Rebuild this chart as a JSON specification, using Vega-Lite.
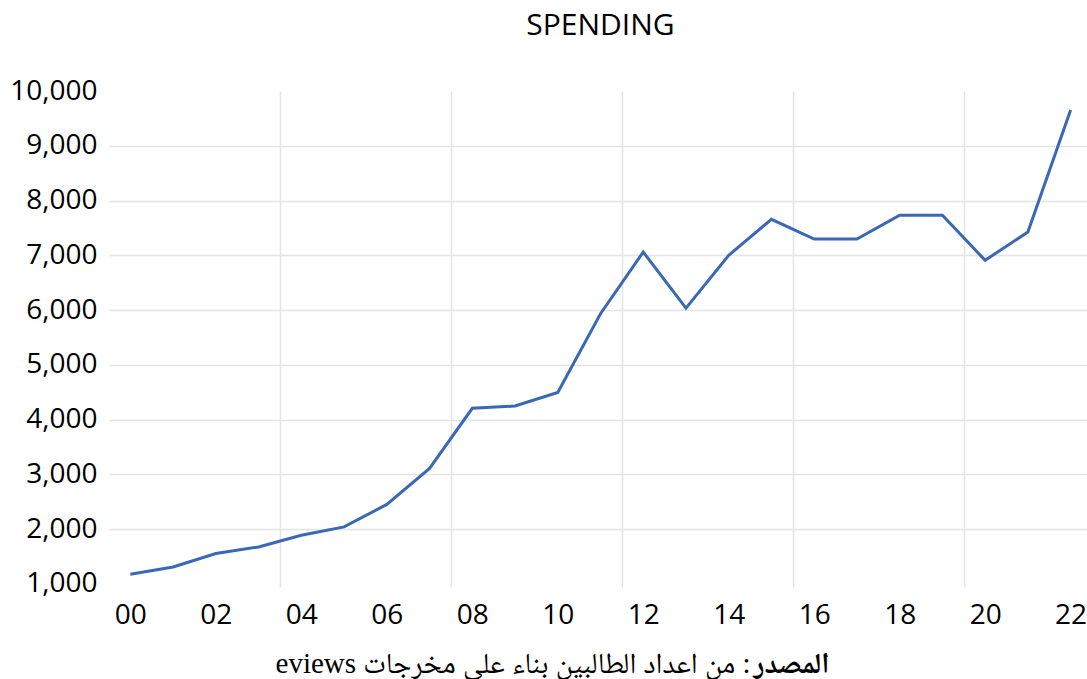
{
  "$schema": "https://vega.github.io/schema/vega-lite/v6.json",
  "width": 983,
  "height": 496,
  "autosize": {"type": "none"},
  "padding": {"left": 109, "top": 91, "right": 0, "bottom": 92},
  "background": "white",
  "title": {"text": "SPENDING", "font": "Open Sans", "fontSize": 30, "fontWeight": "normal", "color": "#000000", "anchor": "middle", "offset": 36},
  "config": {"view": {"stroke": null}},
  "data": {"values": [
    {"year": "00", "spending": 1177},
    {"year": "01", "spending": 1311},
    {"year": "02", "spending": 1556},
    {"year": "03", "spending": 1676},
    {"year": "04", "spending": 1890},
    {"year": "05", "spending": 2042},
    {"year": "06", "spending": 2452},
    {"year": "07", "spending": 3110},
    {"year": "08", "spending": 4207},
    {"year": "09", "spending": 4249},
    {"year": "10", "spending": 4495},
    {"year": "11", "spending": 5934},
    {"year": "12", "spending": 7060},
    {"year": "13", "spending": 6037},
    {"year": "14", "spending": 7000},
    {"year": "15", "spending": 7658},
    {"year": "16", "spending": 7298},
    {"year": "17", "spending": 7298},
    {"year": "18", "spending": 7731},
    {"year": "19", "spending": 7731},
    {"year": "20", "spending": 6909},
    {"year": "21", "spending": 7426},
    {"year": "22", "spending": 9653}
  ]},
  "mark": {"type": "line", "color": "#3A68B4", "strokeWidth": 3, "strokeJoin": "miter", "clip": false},
  "encoding": {
    "x": {
      "field": "year", "type": "ordinal", "bandPosition": 0.5,
      "scale": {"type": "band", "paddingInner": 0, "paddingOuter": 0},
      "axis": {
        "labelExpr": "toNumber(datum.value) % 2 == 0 ? datum.value : ''",
        "tickBand": "extent",
        "grid": true,
        "gridColor": "#E4E4E4",
        "gridWidth": 1.5,
        "gridOpacity": {"condition": {"test": "indexof(['03','07','11','15','19'], datum.value) >= 0", "value": 1}, "value": 0},
        "domain": false,
        "ticks": false,
        "tickSize": 0,
        "labelAngle": 0,
        "labelFont": "Open Sans",
        "labelFontSize": 28,
        "labelColor": "#000000",
        "labelPadding": 14,
        "title": "\u202B: من اعداد الطالبين بناء على مخرجات eviews\u202C",
        "titleFont": "Liberation Serif, Noto Naskh Arabic, Noto Sans Arabic, DejaVu Sans",
        "titleFontSize": 29,
        "titleFontWeight": "normal",
        "titleColor": "#000000",
        "titleAnchor": null,
        "titleAlign": "right",
        "titleBaseline": "alphabetic",
        "titleX": 641,
        "titleY": 85
      }
    },
    "y": {
      "field": "spending", "type": "quantitative",
      "scale": {"domain": [945, 10000], "nice": false, "zero": false},
      "axis": {
        "values": [1000,2000,3000,4000,5000,6000,7000,8000,9000,10000],
        "format": ",.0f",
        "grid": true,
        "gridColor": "#E4E4E4",
        "gridWidth": 1.5,
        "gridOpacity": {"condition": {"test": "datum.value > 1000 && datum.value < 10000", "value": 1}, "value": 0},
        "domain": false,
        "ticks": false,
        "tickSize": 0,
        "labelFont": "Open Sans",
        "labelFontSize": 28,
        "labelColor": "#000000",
        "labelPadding": 12,
        "title": "المصدر",
        "titleFont": "Liberation Serif, Noto Naskh Arabic, Noto Sans Arabic, DejaVu Sans",
        "titleFontSize": 29,
        "titleFontWeight": "bold",
        "titleColor": "#000000",
        "titleAngle": 0,
        "titleAnchor": null,
        "titleAlign": "left",
        "titleBaseline": "alphabetic",
        "titleX": 644,
        "titleY": 581
      }
    }
  }
}
